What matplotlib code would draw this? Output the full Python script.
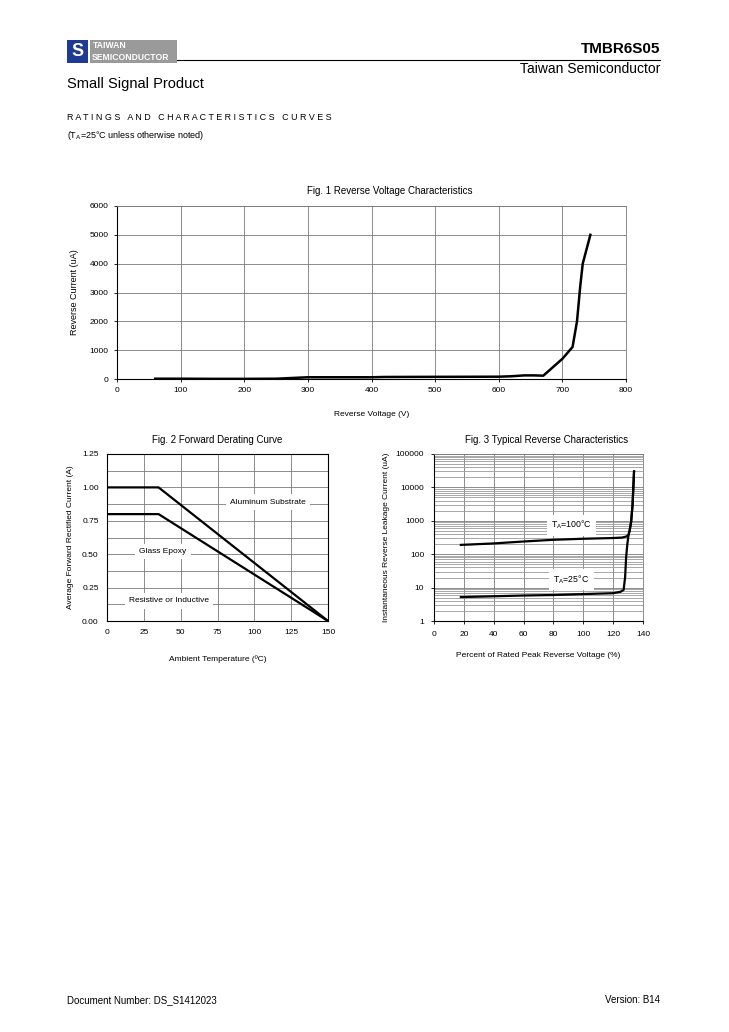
import numpy as np
import matplotlib
matplotlib.use('Agg')
from matplotlib import pyplot as plt
from matplotlib.patches import Rectangle
from matplotlib.lines import Line2D

plt.rcParams['font.family'] = ['Liberation Sans', 'DejaVu Sans']

W, H = 729, 1032

# Fig. 1 reverse voltage characteristics
fig1_v = [60, 100, 150, 200, 250, 270, 300, 350, 400, 420, 500, 600, 620, 640, 655, 670, 700, 716, 723, 728, 732, 744]
fig1_i = [10, 10, 5, 5, 10, 30, 60, 60, 60, 70, 75, 80, 95, 125, 125, 115, 700, 1110, 2000, 3200, 4000, 5000]

# Fig. 2 forward derating
fig2_t = [0, 35, 150]
fig2_alu = [1.0, 1.0, 0.0]
fig2_glass = [0.8, 0.8, 0.0]

# Fig. 3 typical reverse characteristics
fig3_v100 = [18, 40, 60, 80, 100, 120, 126, 129, 130.2, 131, 132, 133, 134]
fig3_i100 = [190, 210, 240, 270, 290, 305, 315, 340, 380, 500, 900, 3000, 30000]
fig3_v25 = [18, 40, 60, 80, 100, 120, 125, 127, 128, 128.7, 129.5, 130.2, 131, 132, 133, 134]
fig3_i25 = [5.2, 5.5, 5.8, 6.0, 6.4, 6.8, 7.5, 8.5, 20, 80, 200, 340, 500, 900, 3000, 30000]

GRID = '#7a7a7a'


def px_axes(fig, x0, y0, x1, y1):
    return fig.add_axes([x0 / W, 1 - y1 / H, (x1 - x0) / W, (y1 - y0) / H])


fig = plt.figure(figsize=(W / 100, H / 100), dpi=100)

# header
fig.patches.append(Rectangle((67 / W, 1 - 63 / H), 21 / W, 23 / H, transform=fig.transFigure,
                             facecolor='#1f3a93', edgecolor='none'))
fig.text(77.5 / W, 1 - 52 / H, 'S', color='white', fontsize=13, fontweight='bold', ha='center', va='center')
fig.patches.append(Rectangle((90 / W, 1 - 63 / H), 87 / W, 23 / H, transform=fig.transFigure,
                             facecolor='#9a9a9a', edgecolor='none'))
fig.text(93 / W, 1 - 46 / H, 'TAIWAN', color='white', fontsize=6.2, fontweight='bold', va='center')
fig.text(92 / W, 1 - 57 / H, 'SEMICONDUCTOR', color='white', fontsize=6.2, fontweight='bold', va='center')
fig.add_artist(Line2D([177 / W, 660 / W], [1 - 60 / H, 1 - 60 / H], color='black', linewidth=0.8,
                      transform=fig.transFigure))
fig.text(660 / W, 1 - 49 / H, 'TMBR6S05', fontsize=11, fontweight='bold', ha='right', va='center')
fig.text(660 / W, 1 - 69 / H, 'Taiwan Semiconductor', fontsize=10, ha='right', va='center')
fig.text(67 / W, 1 - 84 / H, 'Small Signal Product', fontsize=10.5, va='center')
fig.text(67 / W, 1 - 118 / H, ' '.join('RATINGS AND CHARACTERISTICS CURVES'),
         fontsize=6.4, va='center')
fig.text(67 / W, 1 - 136 / H, '(T$_\\mathregular{A}$=25\u00b0C unless otherwise noted)', fontsize=6.5, va='center')

# footer
fig.text(67 / W, 1 - 1000 / H, 'Document Number: DS_S1412023', fontsize=7, va='center')
fig.text(660 / W, 1 - 1000 / H, 'Version: B14', fontsize=7, ha='right', va='center')

# Fig. 1
ax1 = px_axes(fig, 117, 206, 626, 379)
ax1.plot(fig1_v, fig1_i, color='black', linewidth=1.8)
ax1.set_xlim(0, 800)
ax1.set_ylim(0, 6000)
ax1.set_xticks(np.arange(0, 801, 100))
ax1.set_yticks(np.arange(0, 6001, 1000))
ax1.grid(True, color=GRID, linewidth=0.6)
ax1.set_axisbelow(True)
for s in ['top', 'right']:
    ax1.spines[s].set_color(GRID)
    ax1.spines[s].set_linewidth(0.6)
ax1.tick_params(labelsize=6, length=2, width=0.6, pad=4)
ax1.set_title('Fig. 1 Reverse Voltage Characteristics', fontsize=7, pad=9, x=(390 - 117) / 509)
ax1.set_xlabel('Reverse Voltage (V)', fontsize=6, labelpad=12)
ax1.set_ylabel('Reverse Current (uA)', fontsize=6.5, labelpad=8)

# Fig. 2
ax2 = px_axes(fig, 107, 454, 328, 621)
ax2.plot(fig2_t, fig2_alu, color='black', linewidth=1.6)
ax2.plot(fig2_t, fig2_glass, color='black', linewidth=1.6)
ax2.set_xlim(0, 150)
ax2.set_ylim(0, 1.25)
ax2.set_xticks(np.arange(0, 151, 25))
ax2.set_yticks(np.arange(0, 1.26, 0.25))
ax2.set_yticks(np.arange(0.125, 1.25, 0.25), minor=True)
ax2.set_yticklabels(['%.2f' % v for v in np.arange(0, 1.26, 0.25)])
ax2.grid(True, which='both', color=GRID, linewidth=0.6)
ax2.set_axisbelow(True)
ax2.tick_params(labelsize=6, length=0, pad=6)
ax2.tick_params(which='minor', length=0)
bb = dict(facecolor='white', edgecolor='none', pad=3)
ax2.text(109, 0.89, 'Aluminum Substrate', fontsize=6, ha='center', va='center', bbox=bb)
ax2.text(38, 0.52, 'Glass Epoxy', fontsize=6, ha='center', va='center', bbox=bb)
ax2.text(42, 0.15, 'Resistive or Inductive', fontsize=6, ha='center', va='center', bbox=bb)
ax2.set_title('Fig. 2 Forward Derating Curve', fontsize=7, pad=8)
ax2.set_xlabel('Ambient Temperature (\u00baC)', fontsize=6, labelpad=14)
ax2.set_ylabel('Average Forward Rectified Current (A)', fontsize=6, labelpad=6)

# Fig. 3
ax3 = px_axes(fig, 434, 454, 643, 621)
ax3.plot(fig3_v100, fig3_i100, color='black', linewidth=1.6)
ax3.plot(fig3_v25, fig3_i25, color='black', linewidth=1.6)
ax3.set_yscale('log')
ax3.set_xlim(0, 140)
ax3.set_ylim(1, 100000)
ax3.set_xticks(np.arange(0, 141, 20))
ax3.set_yticks([1, 10, 100, 1000, 10000, 100000])
ax3.set_yticklabels(['1', '10', '100', '1000', '10000', '100000'])
ax3.grid(True, which='major', color=GRID, linewidth=0.6)
ax3.grid(True, which='minor', axis='y', color='#9a9a9a', linewidth=0.6)
ax3.set_axisbelow(True)
for s in ['top', 'right']:
    ax3.spines[s].set_color(GRID)
    ax3.spines[s].set_linewidth(0.6)
ax3.tick_params(labelsize=6, length=2, width=0.6, pad=5)
ax3.tick_params(which='minor', length=0)
ax3.text(92, 740, 'T$_\\mathregular{A}$=100\u00b0C', fontsize=6.3, ha='center', va='center', bbox=bb)
ax3.text(92, 17, 'T$_\\mathregular{A}$=25\u00b0C', fontsize=6.3, ha='center', va='center', bbox=bb)
ax3.set_title('Fig. 3 Typical Reverse Characteristics', fontsize=7, pad=8, x=(547 - 434) / 209)
ax3.set_xlabel('Percent of Rated Peak Reverse Voltage (%)', fontsize=6, labelpad=10)
ax3.set_ylabel('Instantaneous Reverse Leakage Current (uA)', fontsize=6, labelpad=4)

fig.savefig('out.png', dpi=100)
